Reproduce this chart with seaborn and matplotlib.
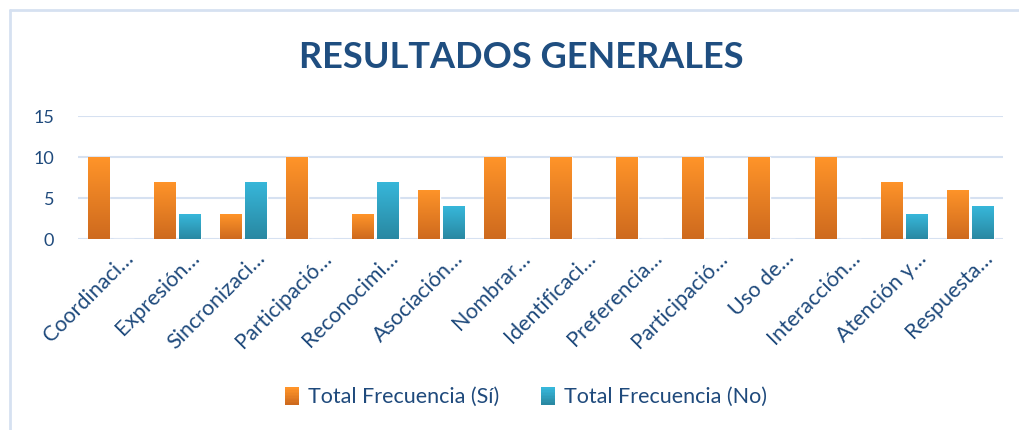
import matplotlib
matplotlib.use("Agg")
import matplotlib.pyplot as plt
import matplotlib.transforms as mtrans
import numpy as np
import pandas as pd
import seaborn as sns
from matplotlib.patches import Rectangle
from matplotlib.lines import Line2D
from matplotlib.legend_handler import HandlerBase

categorias = ['Coordinaci…', 'Expresión…', 'Sincronizaci…', 'Participació…',
              'Reconocimi…', 'Asociación…', 'Nombrar…', 'Identificaci…',
              'Preferencia…', 'Participació… ', 'Uso de…', 'Interacción…',
              'Atención y…', 'Respuesta…']
total_si = [10, 7, 3, 10, 3, 6, 10, 10, 10, 10, 10, 10, 7, 6]
total_no = [0, 3, 7, 0, 7, 4, 0, 0, 0, 0, 0, 0, 3, 4]
series = ['Total Frecuencia (Sí)', 'Total Frecuencia (No)']

df = pd.DataFrame({
    'cat': categorias * 2,
    'valor': total_si + total_no,
    'serie': [series[0]] * len(categorias) + [series[1]] * len(categorias),
})

sns.set_style('white')
plt.rcParams['font.family'] = ['Lato', 'DejaVu Sans']
azul = '#1F4A7C'
grad = {series[0]: ('#FF9429', '#CE6A1E'), series[1]: ('#37B7DA', '#2988A2')}

fig = plt.figure(figsize=(10.19, 4.30), dpi=100)
ax = fig.add_axes([0.0765, 0.444, 0.908, 0.286])

sns.barplot(data=df, x='cat', y='valor', hue='serie', palette=[grad[s][0] for s in series],
            width=0.76, gap=0.13, ax=ax, legend=False, zorder=3)

# gradient fill on every bar
cols = [grad[series[0]]] * len(categorias) + [grad[series[1]]] * len(categorias)
for p, (top, bot) in zip(ax.patches, cols):
    x0, y0, w, h = p.get_x(), p.get_y(), p.get_width(), p.get_height()
    if h <= 0:
        continue
    cmap = matplotlib.colors.LinearSegmentedColormap.from_list('g', [bot, top])
    g = np.linspace(0, 1, 100).reshape(-1, 1)
    im = ax.imshow(g, cmap=cmap, extent=[x0, x0 + w, y0, y0 + h], origin='lower',
                   aspect='auto', zorder=4)
    im.set_clip_path(p)

ax.set_xlim(-0.5, len(categorias) - 0.5)
ax.set_ylim(0, 15)
ax.set_yticks([0, 5, 10, 15])
ax.yaxis.grid(True, color='#D6E1F1', linewidth=1.5, zorder=0)
ax.set_axisbelow(True)
for s in ax.spines.values():
    s.set_visible(False)
ax.set_xlabel('')
ax.set_ylabel('')
ax.tick_params(axis='both', length=0, labelcolor=azul)
ax.tick_params(axis='y', pad=17, labelsize=13)
ax.set_xticks(range(len(categorias)))
ax.set_xticklabels([c.strip() for c in categorias], rotation=45, ha='right',
                   rotation_mode='anchor', fontsize=15.5, color=azul)
shift = mtrans.ScaledTranslation(12 / 100, -4 / 100, fig.dpi_scale_trans)
for lbl in ax.get_xticklabels():
    lbl.set_transform(lbl.get_transform() + shift)

fig.text(0.512, 0.866, 'RESULTADOS GENERALES', ha='center', va='center',
         fontsize=26, fontweight='bold', color='#1F4E80')


class GradHandler(HandlerBase):
    def create_artists(self, legend, orig, xd, yd, width, height, fontsize, trans):
        top, bot = orig.colores
        n = 12
        arts = []
        c = matplotlib.colors.to_rgb(bot)
        c2 = matplotlib.colors.to_rgb(top)
        for i in range(n):
            t = i / (n - 1)
            col = tuple(a * (1 - t) + b * t for a, b in zip(c, c2))
            r = Rectangle((xd, yd - 1 + i * (height + 2) / n), width, (height + 2) / n + 0.3,
                          facecolor=col, edgecolor='none', transform=trans)
            arts.append(r)
        return arts


handles = []
for s in series:
    h = Rectangle((0, 0), 1, 1)
    h.colores = grad[s]
    handles.append(h)
fig.legend(handles, series, loc='center', bbox_to_anchor=(0.516, 0.077), ncol=2,
           frameon=False, fontsize=15.5, labelcolor=azul, handlelength=0.65,
           handleheight=0.65, columnspacing=1.95, handletextpad=0.4,
           handler_map={Rectangle: GradHandler()})

# chart frame (only top and left edges fall inside the picture)
borde = '#D6E1F1'
fig.add_artist(Line2D([10 / 1019, 10 / 1019], [0, 1 - 10 / 430], transform=fig.transFigure,
                      color=borde, linewidth=2))
fig.add_artist(Line2D([10 / 1019, 1], [1 - 10 / 430, 1 - 10 / 430], transform=fig.transFigure,
                      color=borde, linewidth=2))

fig.savefig('out.png', dpi=100)
